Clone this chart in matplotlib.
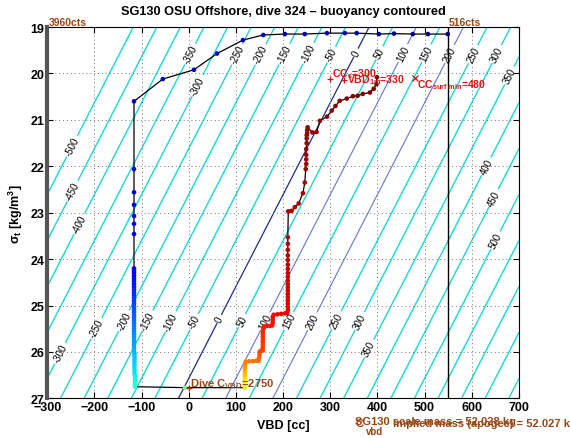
import matplotlib
matplotlib.use("Agg")
import matplotlib.pyplot as plt
import numpy as np

plt.rcParams["font.family"] = ["Liberation Sans", "DejaVu Sans"]
plt.rcParams["mathtext.fontset"] = "custom"
plt.rcParams["mathtext.rm"] = "Liberation Sans"
plt.rcParams["mathtext.it"] = "Liberation Sans:italic"
plt.rcParams["mathtext.bf"] = "Liberation Sans:bold"

# axes
vbd_ticks = [-300, -200, -100, 0, 100, 200, 300, 400, 500, 600, 700]
sigma_ticks = [19, 20, 21, 22, 23, 24, 25, 26, 27]

# buoyancy field: B [g] = VBD + cc_per_sigma * sigma_t - b_offset
cc_per_sigma = 50.5
b_offset = 1341.8
levels = list(range(-500, 751, 50))
navy_levels = [0]
slate_levels = [100, 200]

# where the contour labels sit (vbd, sigma_t)
label_xy = [
    (3, 19.58), (13, 20.23), (102, 19.58), (151, 19.58), (202, 19.58), (257, 19.58),
    (300, 19.58), (359, 19.58), (409, 19.58), (458, 19.58), (507, 19.58),
    (553, 19.58), (602, 19.58), (653, 19.58), (695, 20.12),
    (-256, 21.52), (-241, 22.56), (-230, 23.25),
    (-269, 26.05), (-194, 25.5), (-135, 25.34), (-86, 25.34), (-40, 25.34),
    (9, 25.34), (66, 25.30), (115, 25.34), (162, 25.34), (214, 25.34),
    (262, 25.34), (310, 25.30), (356, 25.30), (384, 25.94),
    (631, 22.0), (649, 22.7), (653, 23.61),
]

# dive: surface, descent, apogee
dive_vbd = [549, 507, 475, 435, 403, 356, 331, 293, 246, 204, 158, 115, 60, 11, -55, -116,
            -116, -116, -116, -116, -116, -116, -116, -116, -116, -116, -116,
            -116, -116, -116, -116, -116, -116, -116, -116, -116, -116, -116, -116, -116,
            -116, -116, -116, -116, -116, -116, -116, -116, -116, -116, -116, -116, -116,
            -115, -115, -115, -115, -115, -115, -115, -115, -114, -114, -114, -114,
            -114, -8]
dive_sigma = [19.15, 19.15, 19.15, 19.14, 19.15, 19.13, 19.13, 19.13, 19.15, 19.15, 19.17,
              19.28, 19.57, 19.92, 20.12, 20.60,
              22.06, 22.56, 22.83, 23.07, 23.24, 23.46, 24.20, 24.25, 24.30, 24.36, 24.42,
              24.48, 24.54, 24.60, 24.66, 24.72, 24.78, 24.84, 24.90, 24.96, 25.02, 25.08,
              25.14, 25.20, 25.26, 25.32, 25.38, 25.44, 25.50, 25.56, 25.62, 25.68, 25.74,
              25.80, 25.86, 25.92, 25.98, 26.04, 26.10, 26.16, 26.22, 26.28, 26.34, 26.40,
              26.46, 26.52, 26.58, 26.64, 26.70,
              26.75, 26.77]
dive_time = [0, 1, 2, 3, 4, 5, 6, 7, 8, 9, 10, 11, 12, 13, 14, 15,
             17, 18, 19, 20, 21, 22, 24, 25, 26, 27, 28,
             29, 30, 31, 33, 34, 35, 37, 38, 39, 41, 42, 43, 45, 46, 47, 49, 50, 51,
             53, 54, 55, 57, 58, 59, 61, 62, 63, 65, 66, 67, 69, 70, 71, 73, 74, 76, 78, 80,
             84, 100]

# climb
climb_vbd = [119, 119, 119, 119, 119, 119, 119, 119, 119, 120, 121,
             128, 136, 143, 148,
             149, 150, 150, 152,
             157, 157, 157, 157, 157, 157, 157, 157, 158, 160,
             166, 172, 177,
             178, 178, 178, 180,
             188, 196, 204, 209,
             210, 210, 210, 210, 210, 210, 210, 210, 210, 210, 210, 210, 210, 210, 210,
             210, 210, 210, 210,
             211, 218, 225, 233, 242, 246, 248, 249, 249, 249, 249, 250, 250, 250, 251, 251, 252,
             262, 271, 278, 293, 303, 311, 320, 335, 348, 358, 369, 384, 392, 398, 399]
climb_sigma = [26.77, 26.72, 26.66, 26.60, 26.54, 26.48, 26.42, 26.36, 26.30, 26.24, 26.21,
               26.20, 26.20, 26.19, 26.19,
               26.13, 26.07, 26.01, 25.98,
               25.97, 25.91, 25.85, 25.79, 25.73, 25.67, 25.61, 25.55, 25.48, 25.45,
               25.44, 25.44, 25.43,
               25.37, 25.31, 25.25, 25.20,
               25.19, 25.18, 25.17, 25.16,
               25.10, 25.03, 24.96, 24.89, 24.82, 24.75, 24.68, 24.61, 24.54, 24.46, 24.38,
               24.30, 24.21, 24.12, 24.02, 23.92, 23.80, 23.67, 23.53,
               22.97, 22.96, 22.88, 22.80, 22.58, 22.35, 22.06, 21.95, 21.85, 21.75, 21.63,
               21.50, 21.40, 21.33, 21.28, 21.22, 21.16,
               21.27, 21.26, 21.02, 20.93, 20.80, 20.70, 20.59, 20.54, 20.49, 20.48, 20.44,
               20.41, 20.33, 20.23, 20.08]
climb_time = [124, 128, 132, 136, 140, 144, 148, 151, 154, 157, 159,
              160, 161, 162, 163,
              165, 167, 169, 171,
              172, 173, 174, 175, 176, 177, 178, 179, 180, 181,
              181.5, 182, 182.5,
              183, 183.5, 184, 184.5,
              185, 185.5, 186, 186.5,
              187, 187.5, 188, 188.5, 189, 189.5, 190, 190.5, 191, 191.5, 192, 192.5, 193,
              193.5, 194, 194.5, 195, 195.5, 196,
              196.5, 197, 197.3, 197.6, 197.9, 198.2, 198.5, 198.8, 199.1, 199.4, 199.7, 200,
              200.3, 200.6, 200.9, 201.2, 201.5,
              202, 202.25, 202.5, 202.75, 203, 203.25, 203.5, 203.75, 204, 204.25, 204.5,
              204.75, 205, 205.25, 205.5]

# markers and annotations
cc_marks = [(300, 20.11, "+"), (330, 20.14, "+"), (480, 20.10, "x")]
cc_texts = [(303, 20.06, r"CC$_\mathbf{s}$=300"),
            (335, 20.19, r"VBD$_\mathbf{1m}$=330"),
            (483, 20.29, r"CC$_\mathbf{surf\ min}$=480")]
c_vbd_dive = 0
c_vbd_counts = 2750
vbd_min_cts, vbd_max_cts = 3960, 516
vbd_min, vbd_max = -300, 550
scale_mass = 52.028
implied_mass = 52.027

brown = "#9a4512"
red = "#e01010"

fig = plt.figure(figsize=(5.7, 4.39), dpi=100)
ax = fig.add_axes([0.0828, 0.0904, 0.8277, 0.8456])
ax.set_xlim(-300, 700)
ax.set_ylim(27, 19)

vv, ss = np.meshgrid(np.linspace(-300, 700, 201), np.linspace(19, 27, 81))
buoy = vv + cc_per_sigma * ss - b_offset
line_colors = []
line_widths = []
for lev in levels:
    if lev in navy_levels:
        line_colors.append("#1b2d8f")
        line_widths.append(0.9)
    elif lev in slate_levels:
        line_colors.append("#6276cf")
        line_widths.append(0.8)
    else:
        line_colors.append("#18d8d8")
        line_widths.append(1.0)
cs = ax.contour(vv, ss, buoy, levels=levels, colors=line_colors, linewidths=line_widths, zorder=1)
labels = ax.clabel(cs, fmt="%d", fontsize=7, colors="k", inline=True, inline_spacing=2,
                   manual=label_xy)
# keep the labels reading up along the lines
p0, p1 = ax.transData.transform([(0, 27), (8 * cc_per_sigma, 19)])
angle = np.degrees(np.arctan2(p1[1] - p0[1], p1[0] - p0[0]))
for t in labels:
    t.set_rotation(angle)

all_vbd = dive_vbd + climb_vbd
all_sigma = dive_sigma + climb_sigma
all_time = dive_time + climb_time
ax.plot(all_vbd, all_sigma, color="k", lw=0.9, zorder=3)
ax.scatter(all_vbd, all_sigma, c=all_time, cmap="jet", s=11, linewidths=0, zorder=4)

ax.plot([vbd_max, vbd_max], [19, 27], color="k", lw=1.0, zorder=3)
ax.plot([vbd_min, vbd_min], [19, 27], color="#555555", lw=3.0, zorder=5, clip_on=False)
ax.text(vbd_min + 3, 19.0, f"{vbd_min_cts}cts", color=brown, fontsize=7.5,
        fontweight="bold", ha="left", va="bottom")
ax.text(vbd_max, 19.0, f"{vbd_max_cts}cts", color=brown, fontsize=7.5,
        fontweight="bold", ha="left", va="bottom")

for x, y, m in cc_marks:
    ax.plot(x, y, marker=m, color=red, ms=5, mew=0.9, zorder=6)
for x, y, s in cc_texts:
    ax.text(x, y, s, color=red, fontsize=7.5, fontweight="bold", ha="left", va="baseline",
            zorder=6)

ax.plot(c_vbd_dive, 26.77, marker="+", color=red, ms=5, mew=0.9, zorder=6)
ax.text(c_vbd_dive + 3, 26.73, r"Dive C$_\mathbf{VBD}$=" + str(c_vbd_counts), color=brown,
        fontsize=8, fontweight="bold", ha="left", va="baseline", zorder=6)

ax.set_xticks(vbd_ticks)
ax.set_yticks(sigma_ticks)
ax.tick_params(direction="in", top=True, right=True, length=4, width=0.8, labelsize=9, pad=2)
for lab in ax.get_xticklabels() + ax.get_yticklabels():
    lab.set_fontweight("bold")
ax.grid(True, color="#777777", linestyle=(0, (1, 3)), linewidth=0.7)
for sp in ax.spines.values():
    sp.set_linewidth(0.8)

W, H = 570, 439
fig.text(283 / W, 1 - 12 / H, "SG130 OSU Offshore, dive 324 \u2013 buoyancy contoured",
         ha="center", va="center", fontsize=9.2, fontweight="bold")
fig.text(283 / W, 1 - 426 / H, "VBD [cc]", ha="center", va="center", fontsize=9,
         fontweight="bold")
fig.text(16 / W, 1 - 214 / H, r"σ$_\mathbf{t}$ [kg/m$^\mathbf{3}$]", ha="center",
         va="center", rotation=90, fontsize=9, fontweight="bold")
# two mass notes, drawn on top of each other as in the original
fig.text(355 / W, 1 - 425 / H, f"SG130 scale mass = {scale_mass:.3f} kg", color=brown,
         ha="left", va="baseline", fontsize=8, fontweight="bold")
fig.text(355 / W, 1 - 427 / H, "C", color=brown, ha="left", va="baseline", fontsize=8,
         fontweight="bold")
fig.text(366 / W, 1 - 435 / H, "vbd", color=brown, ha="left", va="baseline", fontsize=7,
         fontweight="bold")
fig.text(390 / W, 1 - 427 / H, f" implied mass (apogee) = {implied_mass:.3f} kg",
         color=brown, ha="left", va="baseline", fontsize=8, fontweight="bold")

fig.savefig("out.png", dpi=100)
